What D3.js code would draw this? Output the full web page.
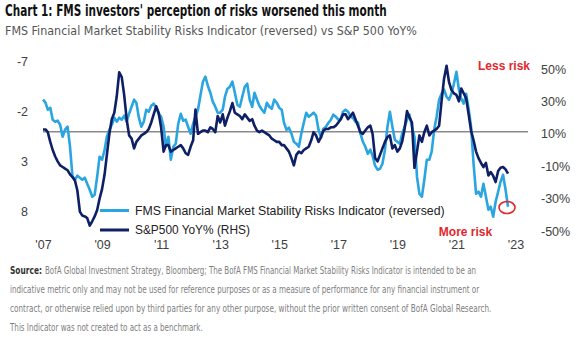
<!DOCTYPE html>
<html lang="en">
<head>
<meta charset="UTF-8">
<title>Chart 1</title>
<script src="https://cdn.jsdelivr.net/npm/d3@7"></script>
<style>
  body{margin:0;background:#fff;}
  text{font-family:"Liberation Sans",Arial,sans-serif;}
</style>
</head>
<body>
<script>
// monthly values, Jan 2007 .. Oct 2022 (one row per year)
var fmsRisk=[
  -3.2,-2.9,-2.2,-2.4,-1.2,-1.0,-1.1,-0.7,0.5,-0.2,-0.5,1.5,
  4.5,4.8,4.4,4.6,4.8,4.6,5.2,5.8,6.5,6.3,4.5,2.5,
  2.8,1.8,0.5,-0.2,-0.7,-1.4,-1.0,-1.4,-1.2,-1.6,-1.0,-1.8,
  -2.5,-3.2,-2.9,-1.4,-0.5,-1.0,-2.2,-2.0,-2.6,-2.8,-2.4,-1.8,
  -1.5,-0.5,1.5,0.5,2.8,1.5,1.2,-0.8,-1.8,-1.1,-1.2,-0.5,
  0.2,-0.8,-1.5,-2.2,-3.6,-5.0,-5.5,-4.6,-3.9,-3.0,-2.5,-1.9,
  -1.9,-2.2,-3.5,-4.3,-4.5,-5.0,-3.9,-2.7,-2.5,-3.5,-4.5,-4.8,
  -3.2,-2.5,-3.9,-3.2,-2.6,-2.2,-1.9,-2.9,-2.5,-2.3,-3.2,-2.9,
  -2.4,-2.2,-0.9,-0.2,-0.4,0.2,1.0,1.2,1.5,0.2,-0.9,-1.9,
  -1.5,-1.7,-1.9,-1.6,-0.2,0.6,-0.3,-0.5,-0.9,-1.2,-1.7,-1.5,
  -1.2,-1.3,-2.0,-2.2,-2.0,-1.5,-1.4,-1.0,-0.9,0.2,1.0,1.5,
  2.2,1.8,2.4,3.4,3.8,3.7,3.2,1.8,-0.5,-2.0,-0.5,0.8,
  1.0,1.2,0.2,-0.5,-1.2,-1.7,-0.5,0.5,4.5,6.2,6.5,4.8,
  2.8,2.8,2.0,-0.2,-1.5,-3.2,-3.8,-4.2,-3.5,-3.2,-3.8,-4.8,
  -6.0,-4.2,-3.3,-2.8,-3.8,-2.3,-0.5,3.2,6.2,6.0,6.5,5.2,
  6.5,7.8,7.5,8.5,7.0,6.0,5.0,4.3,5.8,7.5
];
var spxYoY=[
  12.7,12.7,11,5,0,-4,-7,-9.5,-10.5,-11.5,-12.5,-15,
  -16.7,-19,-25,-38,-40.5,-41,-42,-46.7,-44,-41,-37,-30,
  -24,-15,-3,10,19,23,33,48,45,34,19,9,
  7,1,5,7,9,10,11,13,17,22,27,23,
  14,-1,3,3,-1,0,1,2,3,1,-2,-3,
  2,6,25,10,11,12,12,11,14,13,11,21,
  17,22,15,20,24,29,23,22,21,19,22,20,
  18,19,15,12,11,12,11,10,9,7,6,5,
  5,3,3,1,-1,-5,-9.5,-3,-1,-2,0,1,
  2,6,11,9,5,8,12,13,13,14,14,15,
  17,19,22,22,19,21,23,19,15,11,10,12,
  14,15,10,-5,-7,-3,1,5,8,9,1,3,
  -1,1,5,13,24,20,17,-11,-1,9,5,11,
  15,9,11,12,13,15,30,44,52,42,37,35,
  34,30,38,35,32,22,12,6,-1,-5,-8,-10.5,
  -8,-15.7,-13.6,-16,-19.8,-13,-11,-10.5,-12,-14.6
];
var labelYears=[2007,2009,2011,2013,2015,2017,2019,2021,2023];
var leftTicks=[-7,-2,3,8];
var rightTicks=[50,30,10,-10,-30,-50];

var width=582,height=341;
var lightBlue="#2AA5E0",navy="#0E1F66",red="#E3262D";
var narrow="'Liberation Sans Narrow','DejaVu Sans Condensed',sans-serif";

var svg=d3.select("body").append("svg")
  .attr("width",width).attr("height",height);

// put a text at (x,y) and squeeze/stretch it horizontally to width w
function squeeze(x0,y0,w,str){
  var t=svg.append("text").attr("x",0).attr("y",0).text(str);
  t.fit=function(){
    var len=t.node().getComputedTextLength();
    t.attr("transform","translate("+x0+","+y0+") scale("+(w/len)+",1)");
    return t;
  };
  return t;
}

var months=d3.timeMonth.range(new Date(2007,0,1),new Date(2022,10,1));
var x=d3.scaleTime().domain([months[0],months[months.length-1]]).range([43,508]);
var yL=d3.scaleLinear().domain([-7,8]).range([61.7,211.7]);
var yR=d3.scaleLinear().domain([-50,50]).range([231,69]);

// titles
squeeze(5,16,382,"Chart 1: FMS investors' perception of risks worsened this month")
  .style("font-family",narrow).style("font-weight","bold").style("font-size","15px")
  .attr("fill","#111").fit();
squeeze(5,35,412,"FMS Financial Market Stability Risks Indicator (reversed) vs S&P 500 YoY%")
  .style("font-family",narrow).style("font-size","13px").attr("fill","#555").fit();

// axes
var hy=function(s){return String(s).replace("\u2212","-");};
var gl=svg.append("g").attr("transform","translate(30,0)")
  .call(d3.axisLeft(yL).tickValues(leftTicks).tickSize(0).tickPadding(2)
    .tickFormat(function(d){return hy(d);}));
var gr=svg.append("g").attr("transform","translate(541,0)")
  .call(d3.axisRight(yR).tickValues(rightTicks).tickSize(0).tickPadding(0)
    .tickFormat(function(d){return hy(d)+"%";}));
var gb=svg.append("g").attr("transform","translate(0,237)")
  .call(d3.axisBottom(x).tickValues(labelYears.map(function(y){return new Date(y,0,1);}))
    .tickSize(0).tickPadding(3)
    .tickFormat(function(d){return "'"+d3.timeFormat("%y")(d);}));
[gl,gr,gb].forEach(function(g){
  g.select(".domain").remove();
  g.selectAll("text").attr("fill","#404040")
    .style("font-family","'Liberation Sans',Arial,sans-serif").style("font-size","12.5px");
});

// reference line
svg.append("line")
  .attr("x1",43).attr("x2",528).attr("y1",yL(0)).attr("y2",yL(0))
  .attr("stroke","#8a8a8a").attr("stroke-width",1.5);

// series
var lineL=d3.line().x(function(d,i){return x(months[i]);}).y(function(d){return yL(d);});
var lineR=d3.line().x(function(d,i){return x(months[i]);}).y(function(d){return yR(d);});
svg.append("path").datum(fmsRisk).attr("d",lineL)
  .attr("fill","none").attr("stroke",lightBlue).attr("stroke-width",2.6)
  .attr("stroke-linejoin","round");
svg.append("path").datum(spxYoY).attr("d",lineR)
  .attr("fill","none").attr("stroke",navy).attr("stroke-width",2.6)
  .attr("stroke-linejoin","round");

// legend
var legend=[
  {name:"FMS Financial Market Stability Risks Indicator (reversed)",color:lightBlue,y:210.5,w:310},
  {name:"S&P500 YoY% (RHS)",color:navy,y:230,w:115}
];
legend.forEach(function(l){
  svg.append("line").attr("x1",100).attr("x2",129).attr("y1",l.y).attr("y2",l.y)
    .attr("stroke",l.color).attr("stroke-width",3);
  squeeze(135,l.y+4.4,l.w,l.name).style("font-size","12.5px").attr("fill","#222").fit();
});

// annotations
svg.append("text").attr("x",504).attr("y",65.7).attr("dy","0.35em").attr("text-anchor","middle")
  .style("font-weight","bold").style("font-size","12px").attr("fill",red).text("Less risk");
svg.append("text").attr("x",465.5).attr("y",231.5).attr("dy","0.35em").attr("text-anchor","middle")
  .style("font-weight","bold").style("font-size","12px").attr("fill",red).text("More risk");
svg.append("ellipse").attr("cx",507).attr("cy",207.5).attr("rx",8).attr("ry",6)
  .attr("fill","none").attr("stroke",red).attr("stroke-width",1.6);

// footnote
var notes=[
  {t:"BofA Global Investment Strategy, Bloomberg; The BofA FMS Financial Market Stability Risks Indicator is intended to be an",w:467,src:true},
  {t:"indicative metric only and may not be used for reference purposes or as a measure of performance for any financial instrument or",w:470},
  {t:"contract, or otherwise relied upon by third parties for any other purpose, without the prior written consent of BofA Global Research.",w:482},
  {t:"This Indicator was not created to act as a benchmark.",w:193}
];
notes.forEach(function(n,i){
  var y=273.5+i*19.2,x0=10,w=n.w;
  if(n.src){
    squeeze(10,y,32,"Source:").style("font-family",narrow).style("font-size","10.5px")
      .style("font-weight","bold").attr("fill","#333").fit();
    x0=45; w=n.w-35;
  }
  squeeze(x0,y,w,n.t).style("font-family",narrow).style("font-size","10.5px")
    .attr("fill","#808080").fit();
});
</script>
</body>
</html>
